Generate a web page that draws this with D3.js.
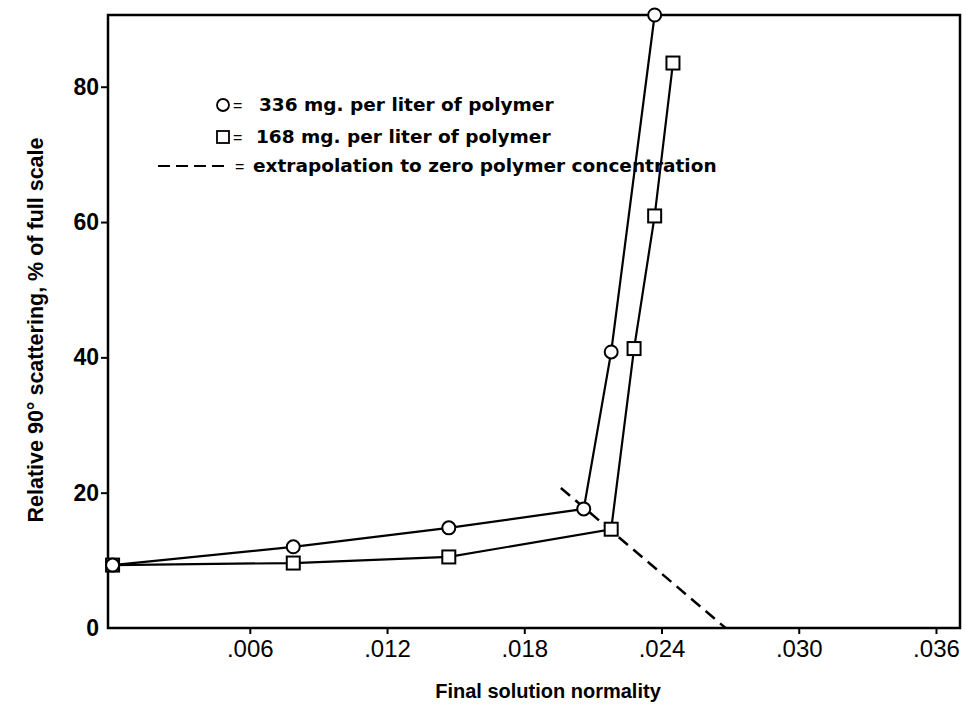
<!DOCTYPE html>
<html>
<head>
<meta charset="utf-8">
<script src="https://cdn.jsdelivr.net/npm/d3@7"></script>
<style>
  body { margin: 0; background: #fff; }
  svg { display: block; font-family: "Liberation Sans", Arial, sans-serif; }
</style>
</head>
<body>
<div id="chart"></div>
<script>
// data
const circleX = [0, 0.0079, 0.0147, 0.0206, 0.0218, 0.0237];
const circleY = [9.3, 12.0, 14.8, 17.6, 40.8, 90.6];
const squareX = [0, 0.0079, 0.0147, 0.0218, 0.0228, 0.0237, 0.0245];
const squareY = [9.3, 9.6, 10.5, 14.6, 41.3, 60.9, 83.5];
const extrapX = [0.0196, 0.0268];
const extrapY = [20.7, 0];
const xTicks = [0.006, 0.012, 0.018, 0.024, 0.030, 0.036];
const yTicks = [0, 20, 40, 60, 80];
const legendLabels = [
    '336 mg. per liter of polymer',
    '168 mg. per liter of polymer',
    'extrapolation to zero polymer concentration'
];

const W = 966, H = 708;
const margin = { top: 15, right: 6, bottom: 80, left: 108 };

const svg = d3.select('#chart').append('svg')
    .attr('width', W)
    .attr('height', H);

const x = d3.scaleLinear()
    .domain([-0.0002, 0.03705])
    .range([margin.left, W - margin.right]);
const y = d3.scaleLinear()
    .domain([0, 90.6])
    .range([H - margin.bottom, margin.top]);

// frame
svg.append('rect')
    .attr('x', x.range()[0])
    .attr('y', y.range()[1])
    .attr('width', x.range()[1] - x.range()[0])
    .attr('height', y.range()[0] - y.range()[1])
    .attr('fill', 'none')
    .attr('stroke', '#000')
    .attr('stroke-width', 2.5);

// x axis
let xAxis = svg.append('g')
    .attr('transform', `translate(0,${y.range()[0]})`)
    .call(d3.axisBottom(x)
        .tickValues(xTicks)
        .tickSize(6)
        .tickPadding(6)
        .tickFormat(d => d3.format('.3f')(d).replace(/^0/, '')));
xAxis.select('.domain').remove();
xAxis.selectAll('line').attr('stroke-width', 2);
xAxis.selectAll('text')
    .attr('font-size', 24)
    .attr('font-family', '"Liberation Sans", Arial, sans-serif')
    .attr('fill', '#000');

// y axis
let yAxis = svg.append('g')
    .attr('transform', `translate(${x.range()[0]},0)`)
    .call(d3.axisLeft(y)
        .tickValues(yTicks)
        .tickSize(7)
        .tickPadding(2)
        .tickFormat(d3.format('d')));
yAxis.select('.domain').remove();
yAxis.selectAll('line').attr('stroke-width', 2);
yAxis.selectAll('.tick').filter(d => d === 0).select('line').remove();
yAxis.selectAll('text')
    .attr('font-size', 23)
    .attr('font-weight', 'bold')
    .attr('font-family', '"Liberation Sans", Arial, sans-serif')
    .attr('fill', '#000');

// axis titles
svg.append('text')
    .attr('x', 548)
    .attr('y', 698)
    .attr('text-anchor', 'middle')
    .attr('font-size', 20)
    .attr('font-weight', 'bold')
    .text('Final solution normality');

svg.append('text')
    .attr('transform', 'translate(43,330) rotate(-90)')
    .attr('text-anchor', 'middle')
    .attr('font-size', 21.5)
    .attr('font-weight', 'bold')
    .text('Relative 90° scattering, % of full scale');

// lines
const line = d3.line().x(d => x(d[0])).y(d => y(d[1]));
const circlePts = d3.zip(circleX, circleY);
const squarePts = d3.zip(squareX, squareY);

svg.append('path')
    .datum(d3.zip(extrapX, extrapY))
    .attr('d', line)
    .attr('fill', 'none')
    .attr('stroke', '#000')
    .attr('stroke-width', 2.5)
    .attr('stroke-dasharray', '12,7');

[circlePts, squarePts].forEach(pts => {
    svg.append('path')
        .datum(pts)
        .attr('d', line)
        .attr('fill', 'none')
        .attr('stroke', '#000')
        .attr('stroke-width', 2.2);
});

// markers
svg.selectAll('rect.sq')
    .data(squarePts)
    .enter()
    .append('rect')
    .attr('class', 'sq')
    .attr('x', d => x(d[0]) - 6.5)
    .attr('y', d => y(d[1]) - 6.5)
    .attr('width', 13)
    .attr('height', 13)
    .attr('fill', '#fff')
    .attr('stroke', '#000')
    .attr('stroke-width', 2);

svg.selectAll('circle.ci')
    .data(circlePts)
    .enter()
    .append('circle')
    .attr('class', 'ci')
    .attr('cx', d => x(d[0]))
    .attr('cy', d => y(d[1]))
    .attr('r', 6.5)
    .attr('fill', '#fff')
    .attr('stroke', '#000')
    .attr('stroke-width', 2);

// legend
let legend = svg.append('g');
legend.append('circle')
    .attr('cx', 223).attr('cy', 105).attr('r', 6)
    .attr('fill', '#fff').attr('stroke', '#000').attr('stroke-width', 1.8);
legend.append('rect')
    .attr('x', 217).attr('y', 131).attr('width', 12).attr('height', 12)
    .attr('fill', '#fff').attr('stroke', '#000').attr('stroke-width', 1.8);
legend.append('line')
    .attr('x1', 158).attr('x2', 230).attr('y1', 166).attr('y2', 166)
    .attr('stroke', '#000').attr('stroke-width', 2)
    .attr('stroke-dasharray', '12,6');

const legendRows = [
    { eqX: 233, textX: 259, y: 111 },
    { eqX: 233, textX: 256, y: 143 },
    { eqX: 235, textX: 253, y: 172 },
];
legendRows.forEach((r, i) => {
    legend.append('text')
        .attr('x', r.eqX).attr('y', r.y)
        .attr('font-size', 16)
        .text('=');
    legend.append('text')
        .attr('x', r.textX).attr('y', r.y)
        .attr('font-family', '"DejaVu Sans", sans-serif')
        .attr('font-size', 18.5)
        .attr('font-weight', 'bold')
        .text(legendLabels[i]);
});
</script>
</body>
</html>
